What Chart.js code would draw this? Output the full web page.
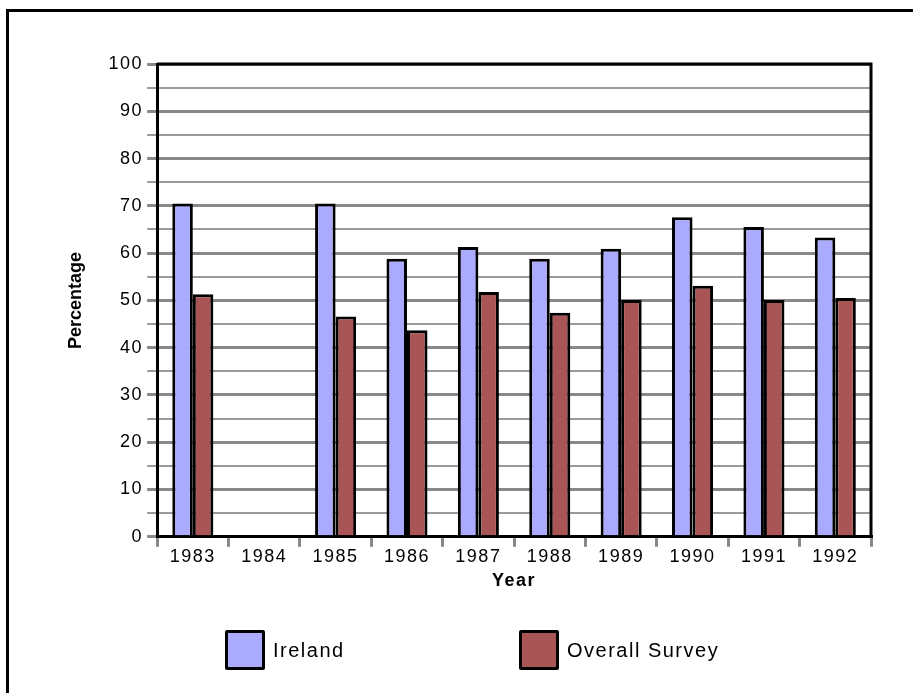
<!DOCTYPE html>
<html>
<head>
<meta charset="utf-8">
<script src="https://cdn.jsdelivr.net/npm/chart.js@4"></script>
<style>
  html, body { margin: 0; padding: 0; background: #fff; }
  .page { width: 913px; height: 693px; position: relative; overflow: hidden; }
  .frame {
    position: absolute; left: 6px; top: 9px; right: -10px; bottom: -10px;
    border-left: 3px solid #000; border-top: 3px solid #000;
  }
  #myChart { position: absolute; left: 0; top: 0; }
  .legend { position: absolute; top: 630px; left: 0; width: 913px; height: 40px; font-family: 'Liberation Sans', Arial, sans-serif; font-size: 20px; letter-spacing: 1.5px; color: #000; }
  .legend .item { position: absolute; top: 0; height: 40px; display: flex; align-items: center; }
  .legend .box { width: 34px; height: 34px; border: 3px solid #000; border-radius: 2px; margin-right: 8px; }
</style>
</head>
<body>
<div class="page">
  <div class="frame"></div>
  <canvas id="myChart" width="913" height="693"></canvas>
  <div class="legend" id="legend"></div>
</div>
<script>
const years = ['1983', '1984', '1985', '1986', '1987', '1988', '1989', '1990', '1991', '1992'];
const ireland = [70.5, null, 70.5, 58.8, 61.3, 58.8, 60.9, 67.6, 65.5, 63.3];
const overall = [51.3, null, 46.6, 43.7, 51.8, 47.4, 50.1, 53.1, 50.1, 50.5];
const seriesNames = ['Ireland', 'Overall Survey'];
const seriesColors = ['#aaaaff', '#aa5555'];
const yMin = 0, yMax = 100, yStep = 5;

const ctx = document.getElementById('myChart').getContext('2d');
const fontFamily = 'Liberation Sans, Arial, sans-serif';

// wider letter spacing on the tick labels, like the original
const spacing = {
  id: 'spacing',
  beforeLayout(chart) { chart.ctx.letterSpacing = '1.5px'; },
  beforeDraw(chart) {
    chart.ctx.letterSpacing = '1.5px';
    const y = chart.scales.y;
    if (y && !y._plainTitle) {
      const orig = y.drawTitle;
      y.drawTitle = function () {
        const c = this.ctx;
        const old = c.letterSpacing;
        c.letterSpacing = '0px';
        orig.apply(this, arguments);
        c.letterSpacing = old;
      };
      y._plainTitle = true;
    }
  }
};

// black line along the top and right of the plot
const frameLines = {
  id: 'frameLines',
  afterDraw(chart) {
    const a = chart.chartArea;
    const c = chart.ctx;
    c.save();
    c.strokeStyle = '#000';
    c.lineWidth = 3;
    c.beginPath();
    c.moveTo(a.left, a.top);
    c.lineTo(a.right, a.top);
    c.lineTo(a.right, a.bottom);
    c.stroke();
    c.restore();
  }
};

const chart = new Chart(ctx, {
  type: 'bar',
  data: {
    labels: years,
    datasets: [{
      label: seriesNames[0],
      data: ireland,
      backgroundColor: seriesColors[0],
      borderColor: '#000',
      borderWidth: 3,
      borderSkipped: 'bottom'
    }, {
      label: seriesNames[1],
      data: overall,
      backgroundColor: seriesColors[1],
      borderColor: '#000',
      borderWidth: 3,
      borderSkipped: 'bottom'
    }]
  },
  options: {
    responsive: false,
    animation: false,
    datasets: { bar: { categoryPercentage: 0.575, barPercentage: 1.0 } },
    layout: { padding: { left: 50, right: 42, top: 64, bottom: 101 } },
    plugins: {
      tooltip: { enabled: false },
      legend: { display: false }
    },
    scales: {
      x: {
        grid: {
          drawOnChartArea: false,
          drawTicks: true,
          tickLength: 10,
          color: '#888',
          lineWidth: 3
        },
        border: { color: '#000', width: 3 },
        ticks: { color: '#000', padding: -1, font: { family: fontFamily, size: 18 } },
        title: {
          display: true, text: 'Year', color: '#000', padding: { top: 4, bottom: 0 },
          font: { family: fontFamily, size: 18, weight: 'bold' }
        }
      },
      y: {
        min: yMin,
        max: yMax,
        ticks: {
          stepSize: yStep,
          autoSkip: false,
          color: '#000',
          padding: 4,
          font: { family: fontFamily, size: 18 },
          callback: (v) => (v % 10 === 0 ? v : '')
        },
        grid: {
          tickLength: 10,
          color: (c) => (c.tick && c.tick.value % 10 === 0 ? '#888' : '#9a9a9a'),
          lineWidth: (c) => (c.tick && c.tick.value % 10 === 0 ? 3 : 2)
        },
        border: { color: '#000', width: 3 },
        title: {
          display: true, text: 'Percentage', color: '#000',
          padding: { top: 15, bottom: 18 },
          font: { family: fontFamily, size: 18, weight: 'bold' }
        }
      }
    }
  },
  plugins: [spacing, frameLines]
});

// legend built from the datasets
const legendDiv = document.getElementById('legend');
const legendLeft = [225, 519];
chart.data.datasets.forEach((ds, i) => {
  const item = document.createElement('div');
  item.className = 'item';
  item.style.left = legendLeft[i] + 'px';
  item.innerHTML = `<div class="box" style="background:${ds.backgroundColor}"></div><span>${ds.label}</span>`;
  legendDiv.appendChild(item);
});
</script>
</body>
</html>
